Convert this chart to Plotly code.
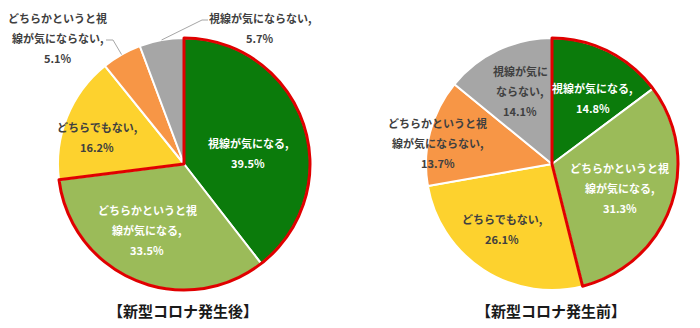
import math
import plotly.graph_objects as go

# ---------------- data ----------------
categories = ['視線が気になる', 'どちらかというと視線が気になる', 'どちらでもない',
              'どちらかというと視線が気にならない', '視線が気にならない']
after_values = [39.5, 33.5, 16.2, 5.1, 5.7]     # 新型コロナ発生後
before_values = [14.8, 31.3, 26.1, 13.7, 14.1]  # 新型コロナ発生前
titles = ['【新型コロナ発生後】', '【新型コロナ発生前】']

# label text wrapping (text only)
after_wrap = [['視線が気になる,'], ['どちらかというと視', '線が気になる,'], ['どちらでもない,'],
              ['どちらかというと視', '線が気にならない,'], ['視線が気にならない,']]
before_wrap = [['視線が気になる,'], ['どちらかというと視', '線が気になる,'], ['どちらでもない,'],
               ['どちらかというと視', '線が気にならない,'], ['視線が気に', 'ならない,']]

# ---------------- style / layout ----------------
W, H = 700, 328
colors = ['#0B7B0B', '#9BBB59', '#FDD22E', '#F79646', '#A6A6A6']
text_colors = ['white', 'white', '#404040', '#404040', '#404040']
RED = '#E00000'
FONT = 'Noto Sans CJK JP'
R = 126
centers = [(184, 164), (552, 164)]
LINE_H = 20

# label placement: (radius px, angle offset deg) relative to slice mid-angle; None => outside label
after_place = [(65, 9), (76, 6.5), (91, -4.6), None, None]
before_place = [(78, 5), (72, 0), (82, 4.7), (116, -4), (80, 2)]
# outside labels for left pie: block centre, leader elbow, leader end (pixels)
after_outside = {3: ((58, 38), (113, 40), (106, 40)),
                 4: ((260, 28), (202, 20), (208, 20))}


def px(x):
    return x / W


def py(y):
    return 1 - y / H


fig = go.Figure()
annotations = []
shapes = []


def add_pie(values, wrap, place, outside, center, title):
    cx, cy = center
    domain = dict(x=[px(cx - R), px(cx + R)], y=[py(cy + R), py(cy - R)])
    fig.add_trace(go.Pie(
        values=values, labels=categories, sort=False, direction='clockwise', rotation=0,
        marker=dict(colors=colors, line=dict(color='white', width=2)),
        textinfo='none', hoverinfo='label+percent', domain=domain, showlegend=False))
    # red outline around "気になる" group
    grp = [values[0] + values[1], sum(values[2:])]
    fig.add_trace(go.Pie(
        values=grp, labels=['気になる計', 'その他'], sort=False, direction='clockwise', rotation=0,
        marker=dict(colors=['rgba(0,0,0,0)', 'rgba(0,0,0,0)'],
                    line=dict(color=[RED, 'rgba(0,0,0,0)'], width=3)),
        textinfo='none', hoverinfo='skip', domain=domain, showlegend=False))

    total = sum(values)
    cum = 0
    for i, v in enumerate(values):
        mid = (cum + v / 2) / total * 360
        cum += v
        lines = wrap[i] + [f'{v:.1f}%']
        if place[i] is not None:
            r, off = place[i]
            a = math.radians(mid + off)
            lx, ly = cx + r * math.sin(a), cy - r * math.cos(a)
            tc = text_colors[i]
        else:
            (lx, ly), elbow, end = outside[i]
            a = math.radians(mid)
            ex, ey = cx + R * math.sin(a), cy - R * math.cos(a)
            shapes.append(dict(type='path', xref='paper', yref='paper',
                               path=f'M {px(ex)},{py(ey)} L {px(elbow[0])},{py(elbow[1])} L {px(end[0])},{py(end[1])}',
                               line=dict(color='#A6A6A6', width=1)))
            tc = '#404040'
        n = len(lines)
        for k, t in enumerate(lines):
            yy = ly + (k - (n - 1) / 2) * LINE_H
            annotations.append(dict(x=px(lx), y=py(yy), xref='paper', yref='paper', text=f'<b>{t}</b>',
                                    showarrow=False, xanchor='center', yanchor='middle',
                                    font=dict(family=FONT, size=11, color=tc)))
    annotations.append(dict(x=px(cx - 1), y=py(310), xref='paper', yref='paper', text=f'<b>{title}</b>',
                            showarrow=False, xanchor='center', yanchor='middle',
                            font=dict(family=FONT, size=15, color='#1a1a1a')))


add_pie(after_values, after_wrap, after_place, after_outside, centers[0], titles[0])
add_pie(before_values, before_wrap, before_place, {}, centers[1], titles[1])

fig.update_layout(width=W, height=H, margin=dict(l=0, r=0, t=0, b=0),
                  paper_bgcolor='white', plot_bgcolor='white', showlegend=False,
                  annotations=annotations, shapes=shapes, font=dict(family=FONT))

fig.write_html('out.html')
